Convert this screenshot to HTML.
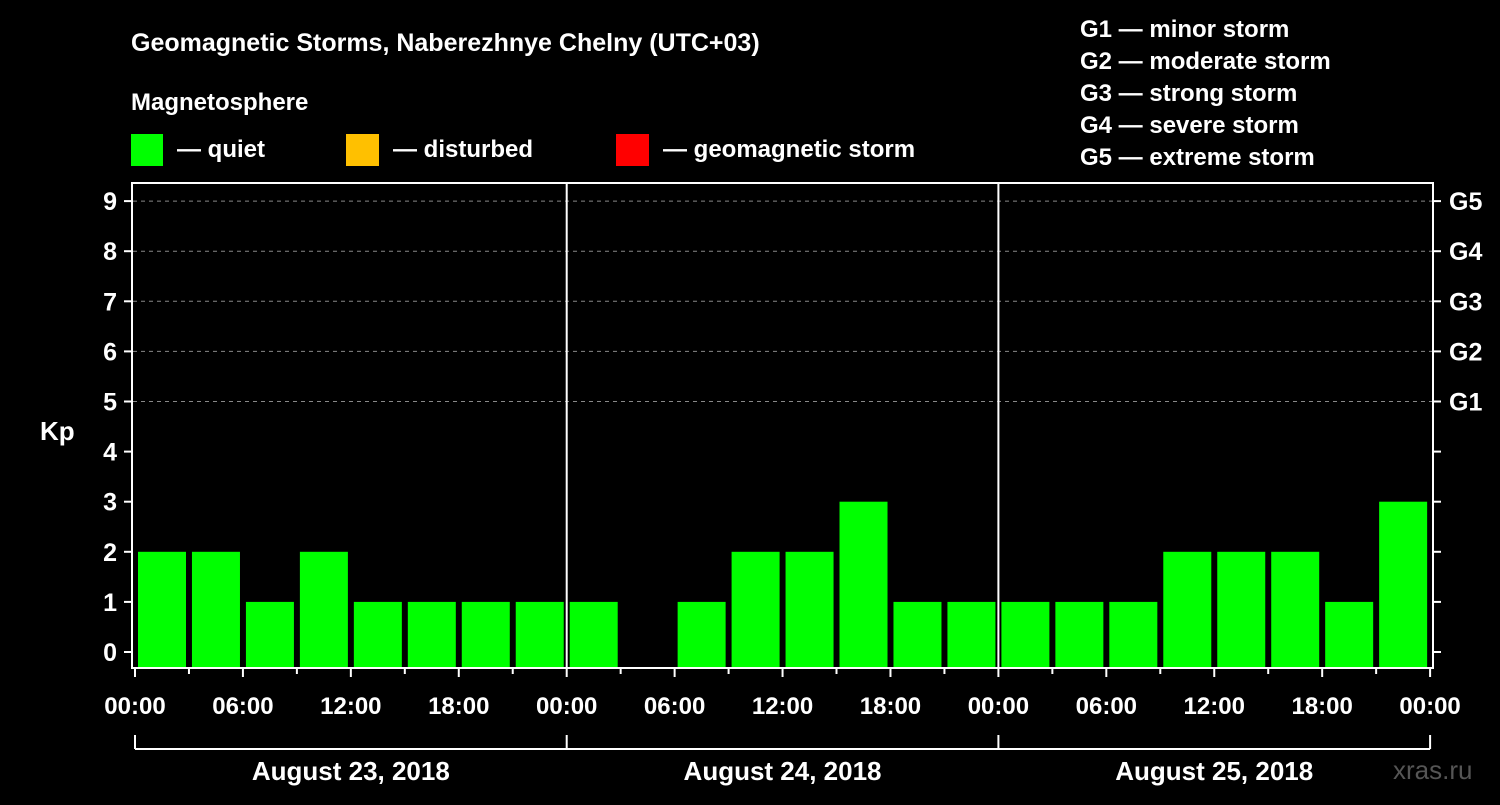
<!DOCTYPE html>
<html><head><meta charset="utf-8"><style>
body{margin:0;background:#000;width:1500px;height:800px;overflow:hidden}
svg text{font-family:"Liberation Sans",sans-serif;font-weight:bold;fill:#fff}
</style></head><body>
<svg id="c" width="1500" height="800">
<rect width="1500" height="800" fill="#000"/>
<text x="131" y="51" font-size="25">Geomagnetic Storms, Naberezhnye Chelny (UTC+03)</text>
<text x="131" y="110" font-size="24">Magnetosphere</text>
<g><rect x="131" y="134" width="32" height="32" fill="#00ff00"/><text x="177" y="157" font-size="24">— quiet</text></g>
<g><rect x="346" y="134" width="33" height="32" fill="#ffc000"/><text x="393" y="157" font-size="24">— disturbed</text></g>
<g><rect x="616" y="134" width="33" height="32" fill="#ff0000"/><text x="663" y="157" font-size="24">— geomagnetic storm</text></g>
<g font-size="24">
<text x="1080" y="37">G1 — minor storm</text>
<text x="1080" y="69">G2 — moderate storm</text>
<text x="1080" y="101">G3 — strong storm</text>
<text x="1080" y="133">G4 — severe storm</text>
<text x="1080" y="165">G5 — extreme storm</text>
</g>
<text x="40" y="440" font-size="26">Kp</text>
<text x="1393" y="779" font-size="26" fill="#444" style="fill:#555;font-weight:normal">xras.ru</text>
<g id="plot"></g>
</svg>
<script>
const dayLabels=["August 23, 2018","August 24, 2018","August 25, 2018"];
const timeLabels=["00:00","06:00","12:00","18:00"];
const kpValues=[2,2,1,2,1,1,1,1, 1,null,1,2,2,3,1,1, 1,1,1,2,2,2,1,3];
const gLabels=["G1","G2","G3","G4","G5"];
const kpTicks=[0,1,2,3,4,5,6,7,8,9];

const NS="http://www.w3.org/2000/svg";
const g=document.getElementById('plot');
const x0=135,dayW=431.7,y0=652,unit=50.1,bottom=667;
const xs=i=>x0+i*dayW/8;
const ys=v=>y0-v*unit;
function el(t,a,p){const e=document.createElementNS(NS,t);for(const k in a)e.setAttribute(k,a[k]);(p||g).appendChild(e);return e;}

// grid
for(let k=5;k<=9;k++){
  const l=el('line',{x1:133,x2:1432,y1:ys(k),y2:ys(k),stroke:'#888','stroke-dasharray':'4,4','stroke-width':1});
  
  
}
// bars
kpValues.forEach((v,i)=>{
  if(v===null)return;
  const r=el('rect',{x:xs(i)+3,y:ys(v),width:48,height:bottom-ys(v),fill:v>=5?'#ff0000':(v>=4?'#ffc000':'#00ff00')});
  
  
});
// frame
el('rect',{x:132,y:183,width:1301,height:485,fill:'none',stroke:'#fff','stroke-width':2});
for(let d=1;d<3;d++){
  const l=el('line',{x1:x0+d*dayW,x2:x0+d*dayW,y1:183,y2:668,stroke:'#fff','stroke-width':2});
  
  
}
// y ticks
kpTicks.forEach(k=>{
  el('line',{x1:124,x2:132,y1:ys(k),y2:ys(k),stroke:'#fff','stroke-width':2});
  el('line',{x1:1433,x2:1441,y1:ys(k),y2:ys(k),stroke:'#fff','stroke-width':2});
  const t=el('text',{x:117,y:ys(k)+9,'font-size':25,'text-anchor':'end'});t.textContent=k;
  
  
});
gLabels.forEach((s,i)=>{
  const t=el('text',{x:1449,y:ys(5+i)+9,'font-size':25});t.textContent=s;
  
  
});
// x ticks
for(let i=0;i<=24;i++){
  const x=xs(i),major=i%2===0;
  el('line',{x1:x,x2:x,y1:668,y2:major?677:674,stroke:'#fff','stroke-width':2});
  if(major&&(i%2===0)&&((i%8)%2===0)&&(i%2===0)){
    if(i%2===0 && (i/2)%1===0){
      const lbl=timeLabels[(i/2)%4];
      const t=el('text',{x:x,y:714,'font-size':24,'text-anchor':'middle'});t.textContent=lbl;
      
      
    }
  }
}
// day brackets
el('line',{x1:x0,x2:x0+3*dayW,y1:749,y2:749,stroke:'#fff','stroke-width':2});
for(let d=0;d<=3;d++)el('line',{x1:x0+d*dayW,x2:x0+d*dayW,y1:735,y2:749,stroke:'#fff','stroke-width':2});
dayLabels.forEach((s,d)=>{
  const t=el('text',{x:x0+(d+0.5)*dayW,y:780,'font-size':26,'text-anchor':'middle'});t.textContent=s;
  
  
});
</script>
</body></html>
